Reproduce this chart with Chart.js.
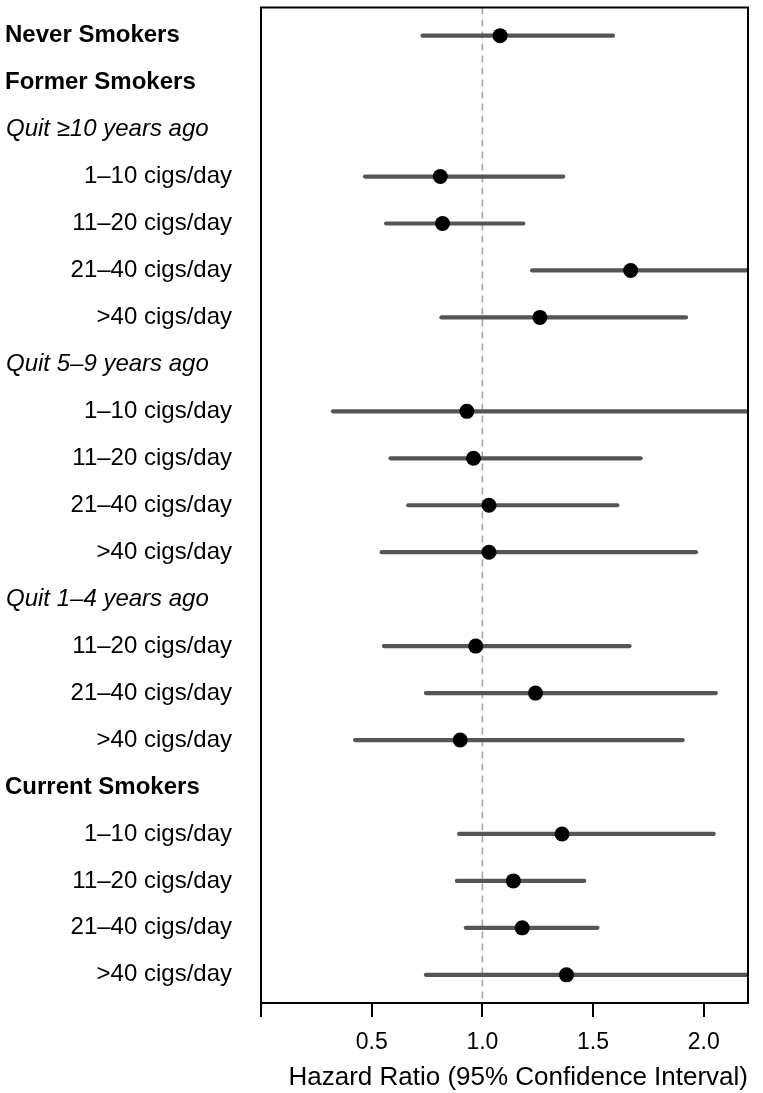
<!DOCTYPE html>
<html>
<head>
<meta charset="utf-8">
<script src="https://cdn.jsdelivr.net/npm/chart.js@4/dist/chart.umd.min.js"></script>
<style>
  html, body { margin: 0; padding: 0; background: #ffffff; }
  #wrap { width: 763px; height: 1093px; position: relative; }
</style>
</head>
<body>
<div id="wrap"><canvas id="c" width="763" height="1093"></canvas></div>
<script>
// ---- data ----
const rowLabels = [
  'Never Smokers',
  'Former Smokers',
  'Quit \u226510 years ago',
  '1\u201310 cigs/day',
  '11\u201320 cigs/day',
  '21\u201340 cigs/day',
  '>40 cigs/day',
  'Quit 5\u20139 years ago',
  '1\u201310 cigs/day',
  '11\u201320 cigs/day',
  '21\u201340 cigs/day',
  '>40 cigs/day',
  'Quit 1\u20134 years ago',
  '11\u201320 cigs/day',
  '21\u201340 cigs/day',
  '>40 cigs/day',
  'Current Smokers',
  '1\u201310 cigs/day',
  '11\u201320 cigs/day',
  '21\u201340 cigs/day',
  '>40 cigs/day'
];
const rowStyles = [
  'bold', 'bold', 'italic', 'plain', 'plain', 'plain', 'plain',
  'italic', 'plain', 'plain', 'plain', 'plain',
  'italic', 'plain', 'plain', 'plain',
  'bold', 'plain', 'plain', 'plain', 'plain'
];
const hazardRatio = [1.08, null, null, 0.81, 0.82, 1.67, 1.26, null, 0.93, 0.96, 1.03, 1.03, null, 0.97, 1.24, 0.90, null, 1.36, 1.14, 1.18, 1.38];
const ciLower     = [0.73, null, null, 0.47, 0.565, 1.225, 0.815, null, 0.325, 0.585, 0.665, 0.545, null, 0.555, 0.745, 0.425, null, 0.895, 0.885, 0.925, 0.745];
const ciUpper     = [1.59, null, null, 1.365, 1.185, 2.40, 1.92, null, 2.40, 1.715, 1.61, 1.965, null, 1.665, 2.055, 1.905, null, 2.045, 1.46, 1.52, 2.40];
const xTickValues = [0, 0.5, 1.0, 1.5, 2.0];
const xRange = [0, 2.2];
const yRange = [-0.6, 20.6];
const referenceValue = 1.0;
const axisTitle = 'Hazard Ratio (95% Confidence Interval)';

// ---- styles ----
const FONT = '"Liberation Sans", Arial, Helvetica, sans-serif';

const datasets = [];
datasets.push({
  type: 'line',
  data: [{ x: referenceValue, y: yRange[0] }, { x: referenceValue, y: yRange[1] }],
  borderColor: '#a6a6a6',
  borderWidth: 1.6,
  borderDash: [7, 5],
  pointRadius: 0,
  showLine: true,
  clip: 0,
  order: 3
});
rowLabels.forEach((lab, i) => {
  if (ciLower[i] === null) return;
  datasets.push({
    type: 'line',
    data: [{ x: ciLower[i], y: i }, { x: ciUpper[i], y: i }],
    borderColor: '#555555',
    borderWidth: 4.2,
    borderCapStyle: 'round',
    pointRadius: 0,
    showLine: true,
    clip: 0,
    order: 2
  });
});
datasets.push({
  type: 'scatter',
  data: rowLabels.map((lab, i) => hazardRatio[i] === null ? null : { x: hazardRatio[i], y: i }).filter(p => p),
  backgroundColor: '#000000',
  borderWidth: 0,
  pointRadius: 7.5,
  order: 1
});

const boxAndLabels = {
  id: 'boxAndLabels',
  afterDraw(chart) {
    const ctx = chart.ctx;
    const a = chart.chartArea;
    const ys = chart.scales.y;
    ctx.save();
    ctx.strokeStyle = '#000000';
    ctx.lineWidth = 2;
    ctx.strokeRect(a.left, a.top, a.right - a.left, a.bottom - a.top);
    ctx.fillStyle = '#000000';
    ctx.textBaseline = 'middle';
    rowLabels.forEach((lab, i) => {
      const y = ys.getPixelForValue(i);
      const st = rowStyles[i];
      if (st === 'bold') {
        ctx.font = 'bold 24px ' + FONT;
        ctx.textAlign = 'left';
        ctx.fillText(lab, 5, y);
      } else if (st === 'italic') {
        ctx.font = 'italic 24px ' + FONT;
        ctx.textAlign = 'left';
        ctx.fillText(lab, 6, y);
      } else {
        ctx.font = '24px ' + FONT;
        ctx.textAlign = 'right';
        ctx.fillText(lab, 232, y);
      }
    });
    ctx.restore();
  }
};

new Chart(document.getElementById('c'), {
  type: 'scatter',
  data: { datasets },
  options: {
    responsive: false,
    animation: false,
    events: [],
    layout: { padding: { left: 261, right: 15, top: 5, bottom: 0 } },
    plugins: { legend: { display: false }, tooltip: { enabled: false } },
    scales: {
      x: {
        type: 'linear',
        position: 'bottom',
        min: xRange[0],
        max: xRange[1],
        afterBuildTicks: (s) => { s.ticks = xTickValues.map(v => ({ value: v })); },
        afterFit: (s) => { s.height = 90; },
        grid: { display: true, drawOnChartArea: false, drawTicks: true, tickLength: 14, color: '#000000', lineWidth: 2 },
        border: { display: false },
        ticks: {
          color: '#000000',
          font: { family: FONT, size: 23 },
          padding: 12,
          maxRotation: 0,
          callback: (v) => v === 0 ? '' : Number(v).toFixed(1)
        },
        title: {
          display: true,
          text: axisTitle,
          align: 'end',
          color: '#000000',
          font: { family: FONT, size: 26 },
          padding: { top: 0, bottom: 0 }
        }
      },
      y: {
        type: 'linear',
        min: yRange[0],
        max: yRange[1],
        reverse: true,
        display: false
      }
    }
  },
  plugins: [boxAndLabels]
});
</script>
</body>
</html>
